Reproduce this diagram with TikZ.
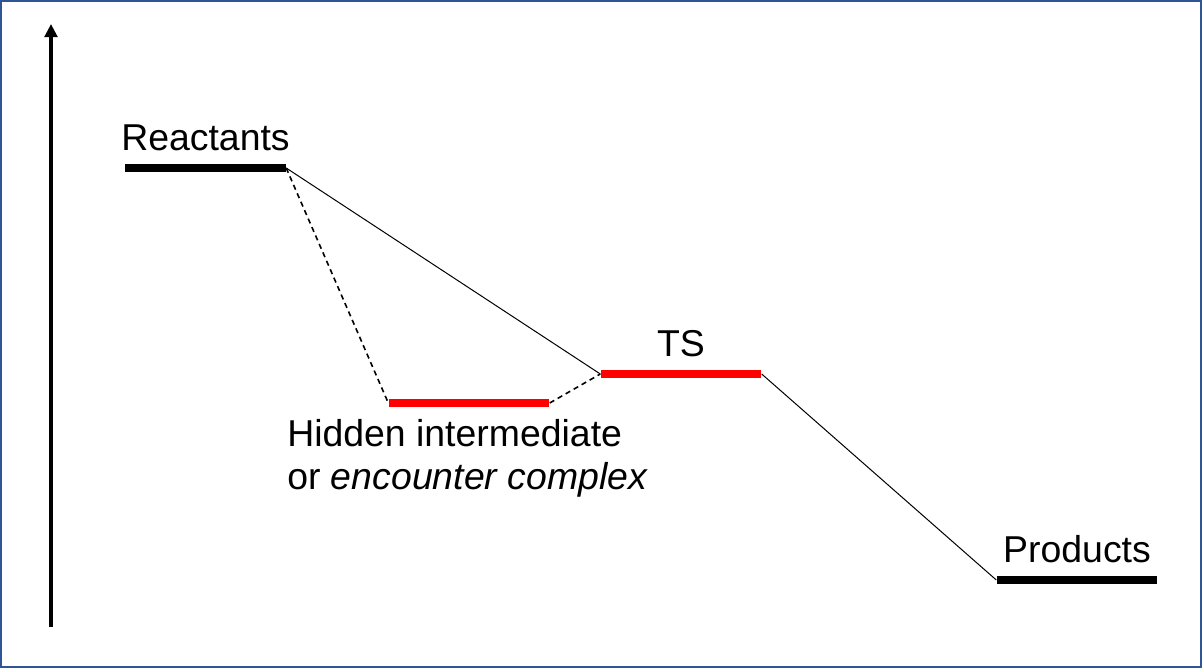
\documentclass[tikz,border=0pt]{standalone}
\usepackage{fontspec}
\setmainfont{Liberation Sans}
\usetikzlibrary{positioning,arrows.meta}
\definecolor{frameblue}{RGB}{47,85,151}
\definecolor{levelred}{RGB}{255,0,0}

\begin{document}
\begin{tikzpicture}[x=0.025cm,y=-0.025cm]
        \tikzstyle{level}=[fill=black,inner sep=0pt,minimum width=4.02cm,minimum height=0.19cm]
        \tikzstyle{redlevel}=[level,fill=levelred]
        \tikzstyle{levelname}=[inner sep=0pt,text depth=0pt,font=\fontsize{26.6}{30.5}\selectfont]
        \tikzstyle{link}=[line width=0.025cm]
        \tikzstyle{dashlink}=[line width=0.04cm,dash pattern=on 0.13cm off 0.1cm]
        \useasboundingbox (0,0) rectangle (1202,668);
        \draw[frameblue,line width=0.06cm] (1.2,1.2) rectangle (1200.8,666.8);
        % energy axis
        \draw[line width=0.08cm,-{Triangle[width=0.32cm,length=0.33cm]}] (51,627) -- (51,24);
        % levels
        \node[level] (reac) at (205.5,168) {};
        \node[redlevel] (hid) at (469,403) {};
        \node[redlevel] (ts) at (681,374) {};
        \node[level] (prod) at (1077,580) {};
        \node[levelname,above=0.33cm of reac] (reactxt) {Reactants};
        \node[levelname,above=0.34cm of ts] (tstxt) {TS};
        \node[levelname,above=0.34cm of prod] (prodtxt) {Products};
        \node[levelname,align=left,anchor=base west] (hidtxt) at (287,489) {Hidden intermediate\\or \textit{encounter complex}};
        % pathways
        \draw[link] (reac.east) -- (ts.west);
        \draw[dashlink] (reac.east) -- (hid.west);
        \draw[dashlink] (hid.east) -- (ts.west);
        \draw[link] (ts.east) -- (prod.west);
\end{tikzpicture}
\end{document}
